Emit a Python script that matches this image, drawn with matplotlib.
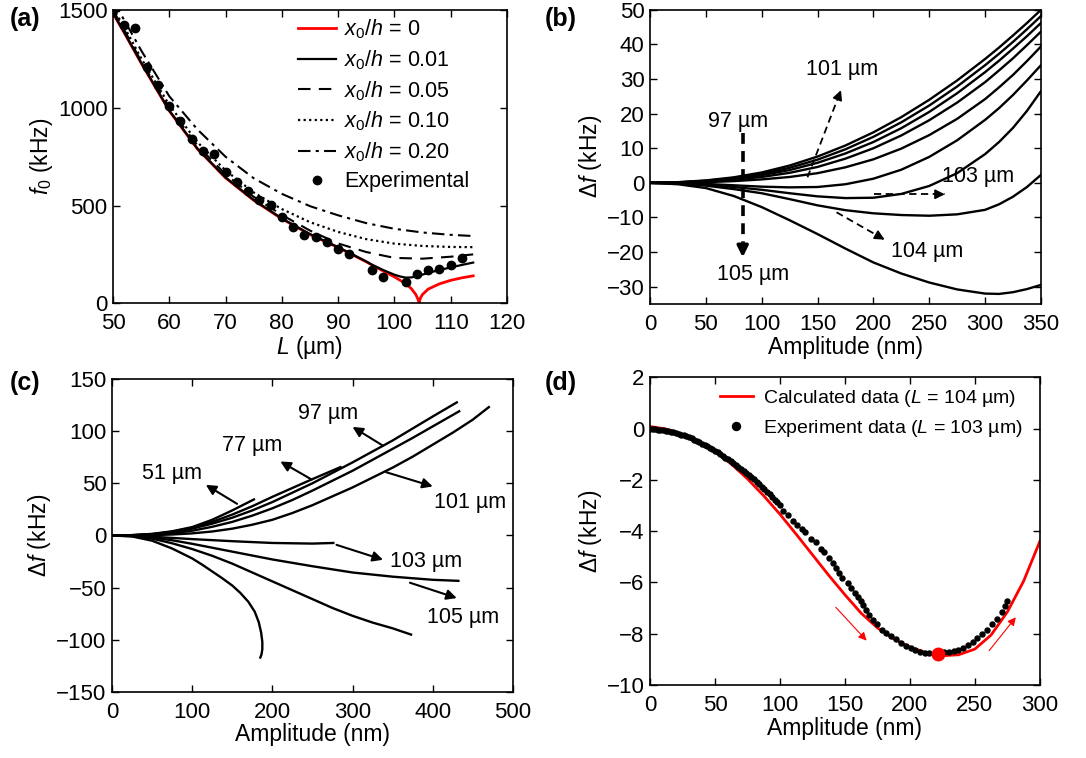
import matplotlib
matplotlib.use('Agg')
import matplotlib.pyplot as plt
import numpy as np

plt.rcParams['font.family'] = ['Liberation Sans', 'DejaVu Sans']
plt.rcParams['mathtext.fontset'] = 'custom'
plt.rcParams['mathtext.rm'] = 'Liberation Sans'
plt.rcParams['mathtext.it'] = 'Liberation Sans:italic'
plt.rcParams['mathtext.bf'] = 'Liberation Sans:bold'
plt.rcParams['font.size'] = 15
plt.rcParams['axes.linewidth'] = 1.2

# ---------------- (a) f0 vs L ----------------
L_grid = [50, 52, 55, 60, 65, 70, 75, 80, 85, 90, 95, 100, 105, 110, 114]
f_020 = [1545, 1450, 1295, 1060, 890, 750, 640, 560, 497, 450, 410, 381, 362, 350, 344]
f_010 = [1510, 1415, 1255, 1015, 825, 680, 567, 482, 415, 365, 328, 305, 293, 288, 287]
f_005 = [1500, 1400, 1240, 1000, 808, 660, 545, 452, 372, 306, 262, 232, 228, 238, 250]

L_001 = [50, 52, 55, 60, 65, 70, 75, 80, 85, 90, 95, 96, 98, 100, 101, 102, 103, 104, 106, 108, 110, 112, 114]
f_001 = [1487, 1387, 1232, 987, 792, 644, 529, 434, 354, 287, 214, 197, 170, 146, 137, 131, 132, 138, 155, 170, 183, 196, 208]

L_red = [50, 52, 55, 60, 65, 70, 75, 80, 85, 90, 95, 98, 100, 102, 103, 103.8, 104.2, 104.4,
         104.6, 105, 106, 108, 110, 112, 114]
f_red = [1485, 1385, 1230, 985, 790, 642, 527, 432, 352, 285, 212, 165, 135, 100, 75, 45, 20, 0,
         25, 45, 72, 99, 117, 130, 140]

L_exp = [50, 52, 54, 56, 58, 60, 62, 64, 66, 68, 70, 72, 74, 76, 78, 80, 82, 84, 86, 88, 90, 92,
         96, 98, 102, 104, 106, 108, 110, 112]
f_exp = [1500, 1425, 1408, 1210, 1115, 1010, 933, 842, 780, 763, 671, 623, 572, 526, 505, 443, 392,
         348, 340, 312, 280, 250, 172, 136, 108, 150, 168, 175, 198, 233]

# ---------------- (b) df vs amplitude, L = 97..105 um ----------------
b_amp = [0, 25, 50, 75, 100, 125, 150, 175, 200, 225, 250, 275, 300, 312.5, 325, 337.5, 350]
b_97 = [0, 0.2, 0.7, 1.6, 3.0, 5.0, 7.6, 10.8, 14.6, 19.0, 24.0, 29.6, 35.8, 39.1, 42.6, 46.2, 50.0]
b_98 = [0, 0.15, 0.6, 1.4, 2.6, 4.35, 6.7, 9.7, 13.3, 17.5, 22.35, 27.85, 34.0, 37.3, 40.75, 44.4, 48.2]
b_99 = [0, 0.1, 0.5, 1.2, 2.2, 3.7, 5.8, 8.5, 11.8, 15.8, 20.5, 25.9, 32.0, 35.3, 38.8, 42.4, 46.2]
b_100 = [0, 0.05, 0.35, 0.9, 1.7, 2.9, 4.6, 7.0, 10.0, 13.7, 18.1, 23.2, 29.1, 32.5, 36.0, 39.8, 43.7]
b_101 = [0, 0.0, 0.2, 0.5, 1.0, 1.7, 2.8, 4.5, 6.8, 9.9, 13.8, 18.5, 24.2, 27.6, 31.2, 35.2, 39.4]
b_102 = [0, -0.1, -0.3, -0.7, -1.1, -1.3, -1.2, -0.4, 1.2, 3.8, 7.5, 12.3, 18.2, 21.6, 25.4, 29.6, 34.0]
b_103 = [0, -0.15, -0.5, -1.2, -2.0, -3.0, -3.9, -4.4, -4.3, -3.2, -0.9, 2.8, 8.3, 11.8, 15.9, 20.8, 26.5]
b_104 = [0, -0.2, -0.8, -1.8, -3.0, -4.7, -6.5, -7.9, -8.8, -9.3, -9.5, -9.1, -7.8, -6.2, -4.0, -1.2, 2.3]
b_105 = [0, -0.4, -1.5, -3.8, -7.0, -10.8, -14.8, -19.0, -23.0, -26.2, -28.8, -30.8, -32.0, -32.1, -31.6, -30.7, -29.5]

# ---------------- (c) df vs amplitude, various L ----------------
c51_x = [0, 25, 50, 75, 100, 125, 150, 177]
c51_y = [0, 0.3, 1.5, 4, 8, 15, 24, 34.5]
c77_x = [0, 25, 50, 75, 100, 125, 150, 175, 200, 225, 250, 285]
c77_y = [0, 0.3, 1.3, 3.5, 7.5, 13, 20, 28, 37, 45.5, 54, 65.5]
c97_x = [0, 25, 50, 75, 100, 125, 150, 175, 200, 225, 250, 275, 300, 325, 350, 375, 400, 430]
c97_y = [0, 0.2, 1, 3, 6.5, 11.3, 17, 24, 32, 41, 50, 60, 70, 80.5, 91, 102.5, 114, 127.5]
c99_x = [0, 25, 50, 75, 100, 125, 150, 175, 200, 225, 250, 275, 300, 325, 350, 375, 400, 433]
c99_y = [0, 0.1, 0.6, 2, 4.5, 8.3, 13, 19, 26, 34, 43, 52.5, 62, 72.5, 83, 93.5, 104.5, 119]
c101_x = [0, 25, 50, 75, 100, 125, 150, 175, 200, 225, 250, 275, 300, 325, 350, 375, 400, 425, 450, 470]
c101_y = [0, 0.05, 0.3, 0.9, 2, 3.8, 6.5, 10.3, 15, 21.5, 29, 37.5, 46, 55.5, 65, 75.5, 87, 98.5, 111, 123]
c103_x = [0, 25, 50, 100, 150, 200, 250, 276]
c103_y = [0, -0.3, -1.2, -3.5, -5.5, -7.2, -7.8, -7.2]
c104_x = [0, 25, 50, 75, 100, 150, 200, 250, 300, 350, 400, 432]
c104_y = [0, -0.4, -2, -4.6, -8, -15.5, -23, -29.5, -35.5, -39.5, -42.5, -43.5]
c105_x = [0, 25, 50, 75, 100, 125, 150, 175, 200, 225, 250, 275, 300, 325, 350, 373]
c105_y = [0, -0.6, -3, -7.5, -13, -19.5, -27, -35.5, -44, -52.5, -61, -69.5, -77, -83.5, -89, -95]
c106_x = [0, 25, 50, 75, 100, 112.5, 125, 137.5, 150, 160, 170, 178, 183, 186, 187.5, 187.5, 186.5, 185]
c106_y = [0, -1, -5, -12.5, -22, -28, -34.5, -41, -48, -55, -63.5, -73, -83, -93, -102, -109, -114, -117]

# ---------------- (d) calculated vs experiment ----------------
d_calc_x = [0, 12.5, 25, 37.5, 50, 62.5, 75, 87.5, 100, 112.5, 125, 137.5, 150, 162.5, 175,
            187.5, 200, 212.5, 225, 237.5, 250, 262.5, 275, 287.5, 300]
d_calc_y = [0.08, -0.02, -0.22, -0.52, -0.9, -1.38, -1.96, -2.62, -3.34, -4.12, -4.92, -5.72,
            -6.48, -7.2, -7.77, -8.2, -8.52, -8.74, -8.86, -8.82, -8.6, -8.05, -7.15, -5.95, -4.4]
d_exp_x = [0, 2, 4, 6, 8, 10, 12, 14, 16, 18, 20, 22, 24, 26, 28, 30, 32, 34, 36, 38, 40, 42,
           44, 46, 48, 50, 52, 54, 56, 58, 60, 62, 64, 66, 68, 70, 72, 74, 76, 78, 80, 82, 84,
           86, 88, 90, 92, 94, 96, 98, 100,
           102.7, 106, 110, 113, 117, 119, 124, 127.5, 131.7, 133.7, 137.8, 141,
           143, 145.7, 147.7, 152.6, 155, 158, 160, 162, 163.6, 166, 168.6, 171.7, 175, 178.4,
           182, 185.7, 189.4, 193, 196.8, 200.5, 204, 207.9, 211.5, 215, 219, 222.6, 226, 230,
           233.7, 237.3, 241, 244.7, 248.4, 252, 255.8, 259.5, 263, 266.8, 270.5, 273, 275]
d_exp_y = [-0.02, -0.02, -0.03, -0.04, -0.05, -0.06, -0.08, -0.1, -0.13, -0.15, -0.18, -0.21,
           -0.24, -0.27, -0.3, -0.34, -0.38, -0.43, -0.48, -0.54, -0.6, -0.65, -0.7, -0.75,
           -0.81, -0.87, -0.93, -0.99, -1.06, -1.13, -1.2, -1.27, -1.34, -1.41, -1.49, -1.56,
           -1.64, -1.72, -1.8, -1.89, -1.98, -2.07, -2.17, -2.27, -2.37, -2.47, -2.57, -2.67,
           -2.77, -2.88, -2.98,
           -3.2, -3.39, -3.6, -3.78, -3.93, -4.03, -4.29, -4.42, -4.68, -4.8, -5.06, -5.26,
           -5.45, -5.64, -5.84, -6.03, -6.22, -6.42, -6.58, -6.74, -6.87, -7.06, -7.26, -7.45,
           -7.64, -7.84, -7.96, -8.09, -8.22, -8.35, -8.48, -8.57, -8.65, -8.7, -8.74, -8.75,
           -8.76, -8.75, -8.72, -8.7, -8.67, -8.62, -8.54, -8.44, -8.32, -8.18, -8.03, -7.84,
           -7.64, -7.41, -7.15, -6.93, -6.74]
d_min = (222, -8.8)


def style(ax):
    ax.tick_params(direction='in', top=True, right=True, length=5, width=1.0, labelsize=16)
    ax.tick_params(axis='x', pad=7)
    ax.tick_params(axis='y', pad=4)


def dashed_arrow(ax, p0, p1, lw=1.3, dash=(4, 3), head=14):
    ax.plot([p0[0], p1[0]], [p0[1], p1[1]], color='k', lw=lw, dashes=dash)
    back = (p1[0] - 0.08 * (p1[0] - p0[0]), p1[1] - 0.08 * (p1[1] - p0[1]))
    ax.annotate('', xy=p1, xytext=back,
                arrowprops=dict(arrowstyle='-|>', color='k', lw=lw,
                                mutation_scale=head, shrinkA=0, shrinkB=0))


def solid_arrow(ax, p0, p1, color='k', lw=1.5, head=15):
    ax.annotate('', xy=p1, xytext=p0,
                arrowprops=dict(arrowstyle='-|>', color=color, lw=lw,
                                mutation_scale=head, shrinkA=0, shrinkB=0))


fig = plt.figure(figsize=(10.86, 7.58), dpi=100)
axa = fig.add_axes([0.104, 0.600, 0.3628, 0.3865])
axb = fig.add_axes([0.5985, 0.599, 0.360, 0.388])
axc = fig.add_axes([0.1031, 0.0871, 0.3692, 0.413])
axd = fig.add_axes([0.5985, 0.0963, 0.359, 0.406])

# (a)
axa.plot(L_red, f_red, color='red', lw=2, label='$x_0/h$ = 0')
axa.plot(L_001, f_001, color='k', lw=1.6, label='$x_0/h$ = 0.01')
axa.plot(L_grid, f_005, color='k', lw=1.5, dashes=(6, 4), label='$x_0/h$ = 0.05')
axa.plot(L_grid, f_010, color='k', lw=1.6, dashes=(1, 1.5), label='$x_0/h$ = 0.10')
axa.plot(L_grid, f_020, color='k', lw=1.5, dashes=(6, 2.5, 1.5, 2.5), label='$x_0/h$ = 0.20')
axa.plot(L_exp, f_exp, 'o', color='k', ms=6, label='Experimental')
axa.set_xlim(50, 120)
axa.set_ylim(0, 1500)
axa.set_xticks(np.arange(50, 121, 10))
axa.set_yticks([0, 500, 1000, 1500])
axa.set_xlabel('$L$ (µm)', fontsize=16.5, labelpad=0)
axa.set_ylabel('$f_0$ (kHz)', fontsize=16.5, labelpad=2)
style(axa)
axa.legend(loc='upper left', bbox_to_anchor=(0.47, 0.975), frameon=False, fontsize=15.5,
           handlelength=1.75, handletextpad=0.4, labelspacing=0.33, borderaxespad=0,
           borderpad=0, numpoints=1)

# (b)
for yv in [b_97, b_98, b_99, b_100, b_101, b_102, b_103, b_104, b_105]:
    axb.plot(b_amp, yv, color='k', lw=1.7)
axb.set_xlim(0, 350)
axb.set_ylim(-35, 50)
axb.set_xticks(np.arange(0, 351, 50))
axb.set_yticks(np.arange(-30, 51, 10))
axb.set_xlabel('Amplitude (nm)', fontsize=16.5, labelpad=1)
axb.set_ylabel('Δ$f$ (kHz)', fontsize=16.5, labelpad=2)
style(axb)
dashed_arrow(axb, (83, 14.5), (83, -21.5), lw=2.6, dash=(3, 2), head=16)
dashed_arrow(axb, (141, 1.6), (171, 26.8), lw=1.3, dash=(4, 2.5))
dashed_arrow(axb, (201, -3.3), (264, -3.3), lw=1.3, dash=(4, 2.5))
dashed_arrow(axb, (167, -8.5), (210, -16.4), lw=1.3, dash=(4, 2.5))
axb.text(79, 17.8, '97 µm', ha='center', va='center', fontsize=15.5)
axb.text(92, -26.5, '105 µm', ha='center', va='center', fontsize=15.5)
axb.text(172, 32.8, '101 µm', ha='center', va='center', fontsize=15.5)
axb.text(294, 1.8, '103 µm', ha='center', va='center', fontsize=15.5)
axb.text(248, -19.8, '104 µm', ha='center', va='center', fontsize=15.5)

# (c)
for xs, ys in [(c51_x, c51_y), (c77_x, c77_y), (c97_x, c97_y), (c99_x, c99_y),
               (c101_x, c101_y), (c103_x, c103_y), (c104_x, c104_y), (c105_x, c105_y),
               (c106_x, c106_y)]:
    axc.plot(xs, ys, color='k', lw=1.7)
axc.set_xlim(0, 500)
axc.set_ylim(-150, 150)
axc.set_xticks(np.arange(0, 501, 100))
axc.set_yticks(np.arange(-150, 151, 50))
axc.set_xlabel('Amplitude (nm)', fontsize=16.5, labelpad=0)
axc.set_ylabel('Δ$f$ (kHz)', fontsize=16.5, labelpad=2)
style(axc)
solid_arrow(axc, (156, 30.3), (117, 48.5))
solid_arrow(axc, (249, 53.6), (210, 70.9))
solid_arrow(axc, (338, 86), (300, 104))
solid_arrow(axc, (342, 60.6), (400, 47))
solid_arrow(axc, (280, -9), (338, -23.3))
solid_arrow(axc, (371.6, -45.3), (430, -60))
axc.text(75, 59, '51 µm', ha='center', va='center', fontsize=15.5)
axc.text(175, 86, '77 µm', ha='center', va='center', fontsize=15.5)
axc.text(270, 116.5, '97 µm', ha='center', va='center', fontsize=15.5)
axc.text(446, 32, '101 µm', ha='center', va='center', fontsize=15.5)
axc.text(392, -25, '103 µm', ha='center', va='center', fontsize=15.5)
axc.text(438, -79, '105 µm', ha='center', va='center', fontsize=15.5)

# (d)
axd.plot(d_calc_x, d_calc_y, color='red', lw=2, label='Calculated data ($L$ = 104 µm)')
axd.plot(d_exp_x, d_exp_y, 'o', color='k', ms=3.6, label='Experiment data ($L$ = 103 µm)')
axd.plot([d_min[0]], [d_min[1]], 'o', color='red', ms=9)
axd.set_xlim(0, 300)
axd.set_ylim(-10, 2)
axd.set_xticks(np.arange(0, 301, 50))
axd.set_yticks(np.arange(-10, 3, 2))
axd.set_xlabel('Amplitude (nm)', fontsize=16.5, labelpad=1)
axd.set_ylabel('Δ$f$ (kHz)', fontsize=16.5, labelpad=2)
style(axd)
solid_arrow(axd, (143, -6.97), (166.7, -8.27), color='red', lw=0.8, head=12)
solid_arrow(axd, (261, -8.66), (281.5, -7.36), color='red', lw=0.8, head=12)
axd.legend(loc='upper right', bbox_to_anchor=(0.955, 0.965), frameon=False, fontsize=14,
           handlelength=1.7, handletextpad=0.5, labelspacing=0.45, borderaxespad=0,
           borderpad=0, numpoints=1, markerscale=1.6)

for lab, x, y in [('(a)', 0.009, 0.975), ('(b)', 0.502, 0.975),
                  ('(c)', 0.009, 0.495), ('(d)', 0.502, 0.495)]:
    fig.text(x, y, lab, fontsize=18, fontweight='bold', ha='left', va='center')

fig.savefig('out.png', dpi=100)
